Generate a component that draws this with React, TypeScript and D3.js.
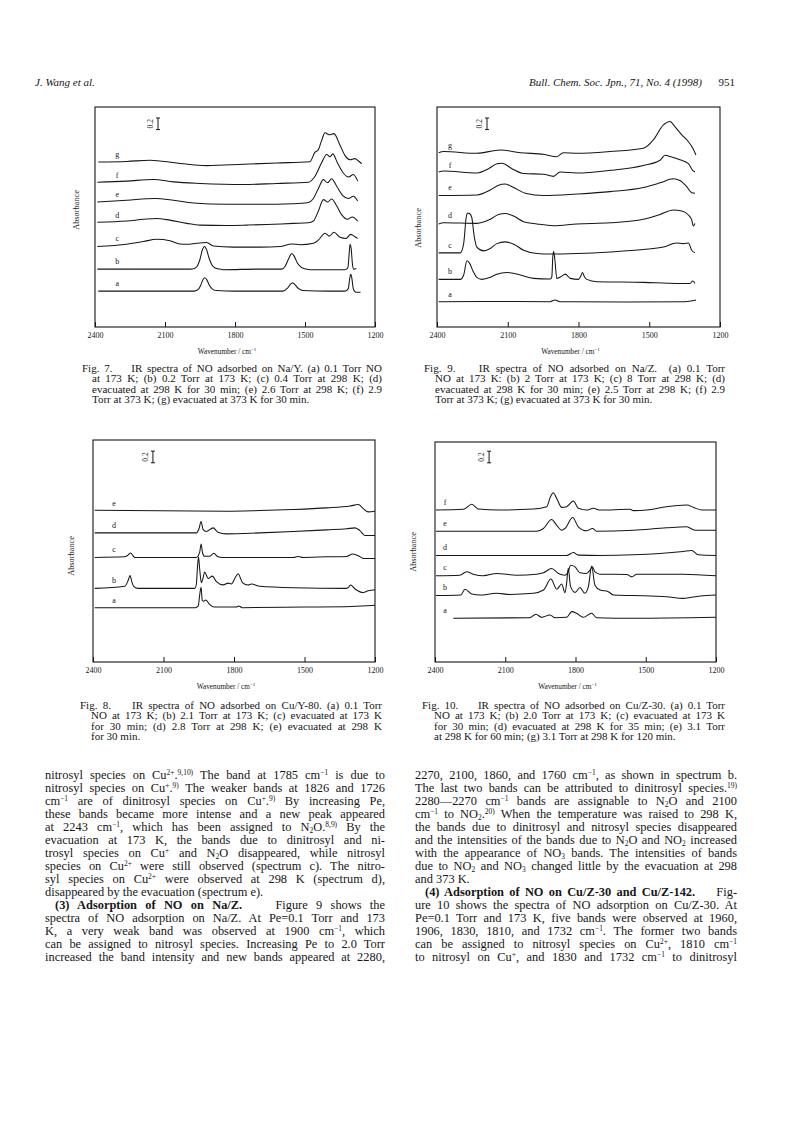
import { useEffect, useRef } from "react";
import * as d3 from "d3";

type Pt = [number, number];

// traces: [wavenumber, absorbance above the trace's own baseline]

// Fig. 7  NO on Na/Y
const fig7a: Pt[] = [[2386,0],[2000,0],[1975,0],[1955,0.04],[1945,0.12],[1937,0.2],[1929,0.23],[1920,0.19],[1910,0.1],[1898,0.04],[1880,0.01],[1800,0],[1650,0],[1595,0],[1575,0.05],[1562,0.12],[1553,0.14],[1543,0.11],[1530,0.05],[1510,0.01],[1400,0],[1330,0],[1322,0.01],[1314,0.05],[1309,0.2],[1304,0.29],[1299,0.22],[1294,0.06],[1288,0],[1280,-0.02],[1262,-0.02]];
const fig7b: Pt[] = [[2390,0],[1990,0],[1975,0.01],[1962,0.05],[1950,0.17],[1940,0.33],[1931,0.39],[1922,0.34],[1912,0.2],[1900,0.08],[1885,0.02],[1865,0],[1850,-0.01],[1700,0],[1600,0],[1585,0.05],[1570,0.18],[1557,0.27],[1546,0.22],[1532,0.1],[1515,0.03],[1495,0],[1480,-0.01],[1330,-0.01],[1322,0],[1316,0.03],[1311,0.25],[1307,0.43],[1302,0.35],[1297,0.1],[1292,0],[1280,0.01]];
const fig7c: Pt[] = [[2390,-0.01],[2264,0.03],[2193,0.075],[2136,0.115],[2079,0.09],[2036,0.035],[2007,0.03],[1964,0.046],[1921,0.058],[1893,0],[1807,-0.02],[1693,-0.02],[1607,-0.01],[1557,0.035],[1521,0.02],[1464,0.046],[1443,0.1],[1414,0.22],[1396,0.17],[1376,0.235],[1350,0.15],[1324,0.13],[1304,0.2],[1286,0.16],[1274,0.13]];
const fig7d: Pt[] = [[2390,0.01],[2264,0.03],[2193,0.06],[2136,0.075],[2079,0.046],[2007,-0.01],[1950,-0.04],[1836,-0.046],[1750,-0.04],[1664,-0.03],[1550,-0.01],[1486,0],[1464,0.03],[1443,0.2],[1421,0.4],[1403,0.36],[1386,0.41],[1364,0.29],[1343,0.14],[1319,0.06],[1297,0.1],[1274,0.03]];
const fig7e: Pt[] = [[2390,0],[2264,0.03],[2143,0.058],[2064,0.03],[1979,-0.017],[1836,-0.04],[1693,-0.04],[1550,-0.03],[1486,-0.01],[1464,0.06],[1443,0.23],[1421,0.386],[1403,0.33],[1386,0.4],[1364,0.27],[1339,0.115],[1314,0.058],[1293,0.1],[1274,0.017]];
const fig7f: Pt[] = [[2390,0.01],[2264,0.03],[2150,0.058],[2064,0.017],[1950,-0.01],[1764,-0.03],[1621,-0.01],[1486,0.01],[1457,0.115],[1429,0.345],[1407,0.49],[1393,0.45],[1381,0.5],[1361,0.345],[1336,0.17],[1313,0.1],[1293,0.144],[1274,0.03]];
const fig7g: Pt[] = [[2386,0],[2264,0.01],[2164,0.03],[2050,-0.017],[1921,-0.063],[1764,-0.04],[1621,-0.017],[1479,0.006],[1457,0.17],[1443,0.21],[1429,0.37],[1414,0.506],[1396,0.47],[1376,0.49],[1350,0.29],[1329,0.115],[1307,0.04],[1286,0.058],[1271,0.017],[1257,-0.03]];
const fig7Offsets = [0.62, 1.0, 1.4, 1.8, 2.16, 2.49, 2.85];

// Fig. 9  NO on Na/Z
const fig9a: Pt[] = [[2393,0],[2200,0.005],[1920,0],[1900,0.03],[1880,0],[1600,-0.005],[1350,0],[1310,0.02],[1302,0.03]];
const fig9b: Pt[] = [[2393,0],[2301,0],[2287,0.075],[2273,0.32],[2262,0.28],[2248,0.15],[2231,0.035],[2210,0],[2174,0.035],[2146,0.09],[2104,0.12],[2047,0.075],[1991,0.017],[1920,0.005],[1913,0.045],[1909,0.39],[1905,0.48],[1900,0.33],[1892,0.017],[1875,0.046],[1856,0.09],[1835,0.017],[1800,0],[1790,0.058],[1783,0.12],[1775,0.046],[1765,0],[1722,-0.04],[1525,-0.052],[1384,-0.07],[1327,-0.07],[1316,-0.03],[1306,-0.07]];
const fig9c: Pt[] = [[2393,0],[2301,0],[2287,0.16],[2276,0.62],[2270,0.69],[2262,0.68],[2253,0.62],[2242,0.28],[2231,0.1],[2202,0.035],[2174,0.075],[2146,0.16],[2111,0.19],[2075,0.15],[2033,0.046],[1976,-0.01],[1920,-0.02],[1807,-0.01],[1666,0.017],[1525,0.058],[1440,0.1],[1384,0.17],[1355,0.16],[1334,0.17],[1320,0.046],[1306,0]];
const fig9d: Pt[] = [[2393,-0.01],[2372,0.01],[2231,0],[2174,0.07],[2139,0.155],[2111,0.17],[2075,0.127],[2033,0.03],[1976,-0.01],[1906,-0.04],[1807,-0.01],[1666,0.01],[1525,0.07],[1454,0.155],[1398,0.23],[1362,0.215],[1334,0.144],[1320,0.06],[1313,-0.046],[1306,0]];
const fig9e: Pt[] = [[2393,-0.01],[2231,0],[2174,0.086],[2139,0.17],[2111,0.19],[2075,0.13],[2026,0.03],[1948,-0.01],[1807,0.017],[1666,0.058],[1525,0.13],[1454,0.21],[1398,0.28],[1370,0.25],[1341,0.144],[1320,0.04],[1306,0.03]];
const fig9f: Pt[] = [[2393,0.017],[2372,0.035],[2231,0],[2181,0.075],[2146,0.16],[2125,0.17],[2082,0.075],[2033,-0.01],[1948,-0.02],[1906,-0.058],[1878,0.017],[1807,0],[1666,0.046],[1525,0.13],[1454,0.22],[1433,0.305],[1405,0.276],[1370,0.23],[1334,0.16],[1316,0.046],[1306,0.017]];
const fig9g: Pt[] = [[2393,0.01],[2372,0.03],[2231,0],[2132,0.058],[2047,0.01],[1948,-0.017],[1892,-0.058],[1864,0.01],[1807,0],[1666,0.03],[1525,0.086],[1483,0.23],[1440,0.49],[1412,0.55],[1391,0.46],[1362,0.32],[1334,0.2],[1313,0.07],[1302,-0.03]];
const fig9Offsets = [0.437, 0.823, 1.28, 1.79, 2.28, 2.66, 3.0];

// Fig. 8  NO on Cu/Y-80
const fig8a: Pt[] = [[2393,0],[1965,0],[1952,0.03],[1946,0.22],[1940,0.35],[1935,0.12],[1928,0.11],[1920,0.13],[1905,0.06],[1885,0.01],[1790,0.01],[1780,0.03],[1765,0],[1500,0.01],[1300,0.02],[1200,0.04]];
const fig8b: Pt[] = [[2393,0],[2265,0.035],[2251,0.13],[2242,0.22],[2235,0.115],[2227,0.035],[2208,0],[1967,0],[1960,0.075],[1956,0.33],[1951,0.535],[1946,0.33],[1939,0.1],[1931,0.19],[1925,0.28],[1910,0.17],[1892,0.21],[1875,0.115],[1846,0.06],[1825,0.09],[1811,0.075],[1794,0.19],[1782,0.25],[1772,0.17],[1764,0.1],[1740,0.058],[1726,0.075],[1690,0.035],[1548,0.01],[1321,0],[1312,0.02],[1304,0.058],[1285,-0.01],[1250,-0.07],[1229,-0.04],[1200,-0.023]];
const fig8c: Pt[] = [[2393,0],[2265,0.01],[2251,0.04],[2240,0.075],[2230,0.03],[2222,0],[1960,0],[1946,0.09],[1940,0.23],[1934,0.08],[1925,0.02],[1904,0.02],[1886,0.07],[1868,0.01],[1850,0],[1548,0],[1527,0.017],[1506,0],[1406,0.01],[1321,0.017],[1295,0.058],[1271,0.03],[1250,-0.017],[1200,-0.017]];
const fig8d: Pt[] = [[2393,0],[1960,0],[1949,0.07],[1940,0.196],[1932,0.06],[1918,0.023],[1889,0.086],[1868,0.01],[1832,-0.017],[1690,0],[1548,0.023],[1406,0.052],[1321,0.07],[1285,0.086],[1264,0.04],[1243,-0.046],[1200,-0.046]];
const fig8e: Pt[] = [[2393,0.017],[1832,0],[1690,0.012],[1548,0.03],[1406,0.058],[1307,0.09],[1271,0.115],[1250,0.046],[1229,-0.01],[1200,0]];
const fig8Offsets = [0.93, 1.26, 1.79, 2.21, 2.58];

// Fig. 10  NO on Cu/Z-30
const fig10a: Pt[] = [[2322,0],[1995,0.01],[1969,0.07],[1945,0.017],[1909,0.058],[1887,0.01],[1838,0.017],[1816,0.115],[1795,0.086],[1767,0.017],[1731,0.086],[1710,0.01],[1553,0],[1200,0.017]];
const fig10b: Pt[] = [[2396,-0.01],[2290,0],[2272,0.1],[2243,0.017],[2208,0],[2137,0.03],[2080,0.01],[1980,0.03],[1937,0.086],[1905,0.276],[1880,0.1],[1859,0.19],[1845,0.04],[1838,0.2],[1831,0.46],[1821,0.144],[1802,0.046],[1781,0.13],[1760,0.03],[1745,0.144],[1731,0.5],[1717,0.17],[1695,0.086],[1660,0.058],[1638,0],[1553,-0.01],[1411,-0.03],[1340,-0.058],[1268,-0.017],[1200,0]];
const fig10c: Pt[] = [[2396,-0.01],[2294,0],[2265,0.058],[2237,0.017],[2194,-0.01],[2137,0.03],[2052,0],[1966,0.017],[1937,0.04],[1902,0.115],[1873,0.03],[1845,0],[1831,0.058],[1821,0.17],[1802,0.144],[1781,0.04],[1753,0.03],[1738,0.086],[1728,0.144],[1717,0.058],[1695,0.017],[1581,0.012],[1560,-0.03],[1539,0.017],[1340,0.017],[1200,-0.01]];
const fig10d: Pt[] = [[2396,0],[1838,0],[1809,0.05],[1788,0.006],[1695,0],[1553,0.012],[1340,0.07],[1304,0.086],[1276,0.012],[1200,0]];
const fig10e: Pt[] = [[2396,0],[1966,0],[1937,0.046],[1902,0.2],[1880,0.1],[1859,0.017],[1845,0.046],[1812,0.236],[1788,0.075],[1753,0.006],[1727,0.046],[1710,0],[1553,0.017],[1411,0.058],[1325,0.075],[1290,0.017],[1200,0.017]];
const fig10f: Pt[] = [[2396,0],[2279,0.012],[2243,0.1],[2215,0.017],[2123,0],[1980,0.017],[1923,0.058],[1907,0.23],[1895,0.3],[1880,0.2],[1859,0.046],[1838,0.058],[1809,0.155],[1788,0.03],[1753,0],[1724,0.03],[1695,0],[1567,0.012],[1553,-0.01],[1496,0],[1411,0.058],[1325,0.086],[1297,0.046],[1261,0],[1200,0]];
const fig10Offsets = [0.755, 1.157, 1.5, 1.84, 2.26, 2.625];

const traceLabels = ["a", "b", "c", "d", "e", "f", "g"];
const wnTicks = [2400, 2100, 1800, 1500, 1200];

// captions
const fig7Caption = [
  "Fig. 7.    IR spectra of NO adsorbed on Na/Y. (a) 0.1 Torr NO",
  "at 173 K; (b) 0.2 Torr at 173 K; (c) 0.4 Torr at 298 K; (d)",
  "evacuated at 298 K for 30 min; (e) 2.6 Torr at 298 K; (f) 2.9",
  "Torr at 373 K; (g) evacuated at 373 K for 30 min.",
];
const fig9Caption = [
  "Fig. 9.    IR spectra of NO adsorbed on Na/Z.  (a) 0.1 Torr",
  "NO at 173 K: (b) 2 Torr at 173 K; (c) 8 Torr at 298 K; (d)",
  "evacuated at 298 K for 30 min; (e) 2.5 Torr at 298 K; (f) 2.9",
  "Torr at 373 K; (g) evacuated at 373 K for 30 min.",
];
const fig8Caption = [
  "Fig. 8.    IR spectra of NO adsorbed on Cu/Y-80. (a) 0.1 Torr",
  "NO at 173 K; (b) 2.1 Torr at 173 K; (c) evacuated at 173 K",
  "for 30 min; (d) 2.8 Torr at 298 K; (e) evacuated at 298 K",
  "for 30 min.",
];
const fig10Caption = [
  "Fig. 10.    IR spectra of NO adsorbed on Cu/Z-30. (a) 0.1 Torr",
  "NO at 173 K; (b) 2.0 Torr at 173 K; (c) evacuated at 173 K",
  "for 30 min; (d) evacuated at 298 K for 35 min; (e) 3.1 Torr",
  "at 298 K for 60 min; (g) 3.1 Torr at 298 K for 120 min.",
];

// body text, ^{} superscript, _{} subscript, ** bold
const leftColumn = [
  "nitrosyl species on Cu^{2+}.^{9,10)} The band at 1785 cm^{−1} is due to",
  "nitrosyl species on Cu^{+}.^{9)} The weaker bands at 1826 and 1726",
  "cm^{−1} are of dinitrosyl species on Cu^{+}.^{9)} By increasing Pe,",
  "these bands became more intense and a new peak appeared",
  "at 2243 cm^{−1}, which has been assigned to N_{2}O.^{8,9)} By the",
  "evacuation at 173 K, the bands due to dinitrosyl and ni-",
  "trosyl species on Cu^{+} and N_{2}O disappeared, while nitrosyl",
  "species on Cu^{2+} were still observed (spectrum c). The nitro-",
  "syl species on Cu^{2+} were observed at 298 K (spectrum d),",
  "disappeared by the evacuation (spectrum e).",
  "**(3) Adsorption of NO on Na/Z.**    Figure 9 shows the",
  "spectra of NO adsorption on Na/Z. At Pe=0.1 Torr and 173",
  "K, a very weak band was observed at 1900 cm^{−1}, which",
  "can be assigned to nitrosyl species. Increasing Pe to 2.0 Torr",
  "increased the band intensity and new bands appeared at 2280,",
];
const leftIndent = [10];
const leftLast = [9];

const rightColumn = [
  "2270, 2100, 1860, and 1760 cm^{−1}, as shown in spectrum b.",
  "The last two bands can be attributed to dinitrosyl species.^{19)}",
  "2280—2270 cm^{−1} bands are assignable to N_{2}O and 2100",
  "cm^{−1} to NO_{2}.^{20)} When the temperature was raised to 298 K,",
  "the bands due to dinitrosyl and nitrosyl species disappeared",
  "and the intensities of the bands due to N_{2}O and NO_{2} increased",
  "with the appearance of NO_{3} bands. The intensities of bands",
  "due to NO_{2} and NO_{3} changed little by the evacuation at 298",
  "and 373 K.",
  "**(4) Adsorption of NO on Cu/Z-30 and Cu/Z-142.**    Fig-",
  "ure 10 shows the spectra of NO adsorption on Cu/Z-30. At",
  "Pe=0.1 Torr and 173 K, five bands were observed at 1960,",
  "1906, 1830, 1810, and 1732 cm^{−1}. The former two bands",
  "can be assigned to nitrosyl species on Cu^{2+}, 1810 cm^{−1}",
  "to nitrosyl on Cu^{+}, and 1830 and 1732 cm^{−1} to dinitrosyl",
];
const rightIndent = [9];
const rightLast = [8];

const INK = "#161616";
const SERIF = "'Liberation Serif', 'DejaVu Serif', serif";

type Panel = {
  box: [number, number, number, number];
  traces: Pt[][];
  offsets: number[];
  labelWn: number;
  barWn: number;
  barTop: number;
  absPos: [number, number];
  caption: string[];
  capX: [number, number, number];
  capY: number;
};

const panels: Panel[] = [
  { box: [95, 107, 375, 327], traces: [fig7a, fig7b, fig7c, fig7d, fig7e, fig7f, fig7g], offsets: fig7Offsets,
    labelWn: 2305, barWn: 2130, barTop: 3.61, absPos: [79, 210], caption: fig7Caption, capX: [82, 92, 382], capY: 372 },
  { box: [437, 107, 720, 327], traces: [fig9a, fig9b, fig9c, fig9d, fig9e, fig9f, fig9g], offsets: fig9Offsets,
    labelWn: 2345, barWn: 2188, barTop: 3.61, absPos: [421, 228], caption: fig9Caption, capX: [424, 435, 725], capY: 372 },
  { box: [93, 440, 375, 662], traces: [fig8a, fig8b, fig8c, fig8d, fig8e], offsets: fig8Offsets,
    labelWn: 2311, barWn: 2145, barTop: 3.61, absPos: [74, 556], caption: fig8Caption, capX: [80, 91, 382], capY: 709 },
  { box: [435, 442, 716, 662], traces: [fig10a, fig10b, fig10c, fig10d, fig10e, fig10f], offsets: fig10Offsets,
    labelWn: 2357, barWn: 2169, barTop: 3.64, absPos: [416, 552], caption: fig10Caption, capX: [422, 434, 725], capY: 709 },
];

// rich text with sup/sub/bold; justified by word spacing when a width is given
function richText(
  parent: d3.Selection<SVGGElement, unknown, null, undefined>,
  str: string,
  x: number,
  y: number,
  size: number,
  justifyTo?: number,
) {
  const t = parent
    .append("text")
    .attr("x", x)
    .attr("y", y)
    .attr("font-size", size)
    .attr("font-family", SERIF)
    .attr("fill", INK)
    .style("white-space", "pre");
  let shift = 0;
  str
    .split(/(\^\{[^}]*\}|_\{[^}]*\}|\*\*[^*]+\*\*)/)
    .filter((s) => s.length)
    .forEach((seg) => {
      let txt = seg;
      let s = 0;
      let fs = size;
      let bold = false;
      if (seg.startsWith("^{")) {
        txt = seg.slice(2, -1);
        s = -size * 0.3;
        fs = size * 0.6;
      } else if (seg.startsWith("_{")) {
        txt = seg.slice(2, -1);
        s = size * 0.16;
        fs = size * 0.6;
      } else if (seg.startsWith("**")) {
        txt = seg.slice(2, -2);
        bold = true;
      }
      const ts = t.append("tspan").attr("dy", s - shift).attr("font-size", fs).text(txt);
      if (bold) ts.attr("font-weight", "bold");
      shift = s;
    });
  const node = t.node() as SVGTextElement;
  const w = node.getComputedTextLength();
  if (justifyTo) {
    const spaces = (node.textContent || "").split(" ").length - 1;
    if (w > justifyTo - x) {
      t.attr("textLength", justifyTo - x).attr("lengthAdjust", "spacingAndGlyphs");
    } else if (spaces > 0) {
      t.attr("word-spacing", (justifyTo - x - w) / spaces);
    }
  }
  return t;
}

export default function App() {
  const ref = useRef<SVGSVGElement>(null);

  useEffect(() => {
    if (!ref.current) return;
    const svg = d3.select(ref.current);
    svg.selectAll("*").remove();
    const root = svg.append("g");

    // running head
    root.append("text").attr("x", 35).attr("y", 86).attr("font-size", 11).attr("font-style", "italic")
      .attr("font-family", SERIF).attr("fill", INK).text("J. Wang et al.");
    root.append("text").attr("x", 702).attr("y", 86).attr("font-size", 11).attr("font-style", "italic")
      .attr("text-anchor", "end").attr("font-family", SERIF).attr("fill", INK)
      .text("Bull. Chem. Soc. Jpn., 71, No. 4 (1998)");
    root.append("text").attr("x", 735).attr("y", 86).attr("font-size", 11).attr("text-anchor", "end")
      .attr("font-family", SERIF).attr("fill", INK).text("951");

    panels.forEach((p) => {
      const [x0, y0, x1, y1] = p.box;
      const x = d3.scaleLinear().domain([2400, 1200]).range([x0, x1]);
      const y = d3.scaleLinear().domain([0, 3.8]).range([y1, y0]);
      const g = root.append("g");

      g.append("rect")
        .attr("x", x0).attr("y", y0).attr("width", x1 - x0).attr("height", y1 - y0)
        .attr("fill", "none").attr("stroke", INK).attr("stroke-width", 1.1);

      g.append("g")
        .attr("transform", `translate(0,${y1})`)
        .call(d3.axisBottom(x).tickValues(wnTicks).tickSize(-5).tickSizeOuter(0).tickPadding(5.5).tickFormat(d3.format("d")))
        .call((a) => {
          a.select(".domain").remove();
          a.selectAll("line").attr("stroke", INK);
          a.selectAll("text").attr("font-size", 8).attr("font-family", SERIF).attr("fill", INK);
        });

      // x axis title
      const xt = g.append("text")
        .attr("x", (x0 + x1) / 2 - 8).attr("y", y1 + 27)
        .attr("text-anchor", "middle").attr("font-size", 7.3).attr("font-family", SERIF).attr("fill", INK);
      xt.append("tspan").text("Wavenumber / cm");
      xt.append("tspan").attr("dy", -3).attr("font-size", 5).text("−1");

      // y axis title
      g.append("text")
        .attr("transform", `translate(${p.absPos[0]},${p.absPos[1]}) rotate(-90)`)
        .attr("text-anchor", "middle").attr("font-size", 8.3).attr("font-family", SERIF).attr("fill", INK)
        .text("Absorbance");

      const line = d3.line<Pt>().x((d) => x(d[0])).y((d) => y(d[1])).curve(d3.curveMonotoneX);

      p.traces.forEach((tr, i) => {
        const off = p.offsets[i];
        g.append("path")
          .attr("d", line(tr.map(([w, a]) => [w, a + off] as Pt)))
          .attr("fill", "none").attr("stroke", INK).attr("stroke-width", 1.05)
          .attr("stroke-linejoin", "round");
        g.append("text")
          .attr("x", x(p.labelWn)).attr("y", y(off) - 5)
          .attr("text-anchor", "middle").attr("font-size", 8).attr("font-family", SERIF).attr("fill", INK)
          .text(traceLabels[i]);
      });

      // 0.2 absorbance scale bar
      const bx = x(p.barWn);
      const bt = y(p.barTop);
      const bb = y(p.barTop - 0.2);
      g.append("line").attr("x1", bx).attr("x2", bx).attr("y1", bt).attr("y2", bb).attr("stroke", INK).attr("stroke-width", 1);
      [bt, bb].forEach((yy) =>
        g.append("line").attr("x1", bx - 2).attr("x2", bx + 2).attr("y1", yy).attr("y2", yy).attr("stroke", INK).attr("stroke-width", 1),
      );
      g.append("text")
        .attr("transform", `translate(${bx - 5},${(bt + bb) / 2}) rotate(-90)`)
        .attr("text-anchor", "middle").attr("font-size", 7.5).attr("font-family", SERIF).attr("fill", INK)
        .text("0.2");

      // caption
      p.caption.forEach((ln, i) => {
        const xs = i === 0 ? p.capX[0] : p.capX[1];
        const last = i === p.caption.length - 1;
        richText(g, ln, xs, p.capY + i * 10.3, 11, last ? undefined : p.capX[2]);
      });
    });

    // two text columns
    const body = root.append("g");
    const lh = 13.0;
    leftColumn.forEach((ln, i) => {
      const xs = leftIndent.includes(i) ? 55 : 45;
      const last = leftLast.includes(i);
      richText(body, ln, xs, 779 + i * lh, 12.4, last ? undefined : 385);
    });
    rightColumn.forEach((ln, i) => {
      const xs = rightIndent.includes(i) ? 425 : 415;
      const last = rightLast.includes(i);
      richText(body, ln, xs, 779 + i * lh, 12.4, last ? undefined : 737);
    });
  }, []);

  return (
    <svg
      ref={ref}
      width={793}
      height={1123}
      viewBox="0 0 793 1123"
      style={{ position: "absolute", left: 0, top: 0, background: "#fff" }}
    />
  );
}
